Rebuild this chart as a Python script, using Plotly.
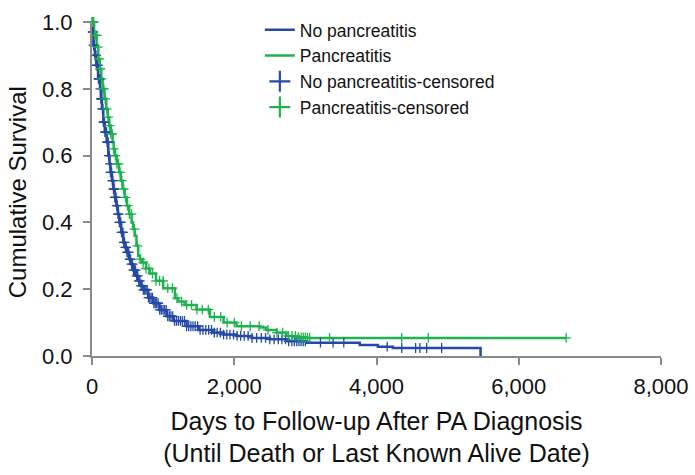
import numpy as np
import plotly.graph_objects as go

# Kaplan-Meier step curves (days, cumulative survival)
blue_days = [0, 8, 20, 40, 60, 85, 112, 125, 140, 159, 180, 206, 229, 245, 260, 280, 300, 320, 340, 362, 384,
             410, 440, 463, 490, 520, 550, 580, 615, 650, 685, 720, 790, 861, 950, 1049, 1150, 1330, 1500, 1704,
             1850, 2032, 2250, 2500, 2750, 3015, 3764, 4020, 4230, 5463, 5463]
blue_surv = [1.0, 0.97, 0.93, 0.90, 0.87, 0.83, 0.80, 0.77, 0.74, 0.70, 0.67, 0.64, 0.60, 0.575, 0.55, 0.525,
             0.50, 0.475, 0.45, 0.425, 0.40, 0.37, 0.34, 0.325, 0.31, 0.29, 0.275, 0.257, 0.24, 0.225, 0.21,
             0.198, 0.175, 0.158, 0.138, 0.119, 0.105, 0.089, 0.078, 0.07, 0.064, 0.06, 0.054, 0.05, 0.044,
             0.04, 0.033, 0.028, 0.024, 0.024, 0.0]

green_days = [0, 30, 66, 88, 110, 130, 150, 175, 200, 222, 243, 265, 290, 305, 323, 350, 380, 405, 431, 460,
              490, 522, 557, 578, 600, 625, 650, 675, 700, 760, 815, 900, 1001, 1166, 1212, 1300, 1470, 1657,
              1850, 2032, 2360, 2450, 2594, 2734, 2900, 3015, 6667]
green_surv = [1.0, 0.96, 0.925, 0.89, 0.86, 0.83, 0.80, 0.77, 0.74, 0.715, 0.69, 0.665, 0.64, 0.62, 0.60,
              0.575, 0.55, 0.525, 0.50, 0.475, 0.45, 0.425, 0.40, 0.38, 0.36, 0.33, 0.30, 0.29, 0.28, 0.262,
              0.247, 0.225, 0.203, 0.173, 0.163, 0.153, 0.139, 0.117, 0.10, 0.089, 0.085, 0.078, 0.070, 0.06,
              0.056, 0.054, 0.054]

# Censoring times
blue_cens = [3, 10, 16, 22, 28, 35, 41, 48, 55, 62, 68, 75, 82, 90, 97, 104, 111, 118, 125, 132, 139, 146,
             153, 160, 167, 175, 182, 190, 197, 205, 212, 220, 228, 236, 244, 252, 260, 268, 276, 285, 293,
             302, 311, 320, 329, 338, 347, 356, 365, 375, 385, 395, 405, 415, 425, 436, 447, 458, 469, 480,
             492, 505, 517, 530, 543, 556, 570, 583, 597, 612, 627, 642, 657, 672, 688, 705, 722, 740, 758,
             776, 794, 812, 831, 850, 870, 890, 910, 930, 952, 975, 998, 1020, 1043, 1065, 1088, 1110, 1135,
             1160, 1188, 1215, 1243, 1270, 1300, 1330, 1360, 1390, 1420, 1450, 1485, 1520, 1560, 1600, 1640,
             1680, 1720, 1760, 1805, 1850, 1895, 1940, 1990, 2040, 2090, 2140, 2195, 2250, 2315, 2380, 2440,
             2500, 2560, 2620, 2670, 2720, 2765, 2810, 2845, 2880, 2910, 2940, 2970, 3000, 3212, 3390, 3540,
             4150, 4355, 4550, 4610, 4705, 4916]
green_cens = [2, 12, 25, 37, 50, 65, 80, 97, 115, 132, 150, 167, 185, 205, 225, 245, 265, 285, 305, 328, 350,
              372, 395, 420, 445, 472, 500, 527, 555, 597, 640, 680, 720, 760, 800, 850, 900, 950, 1000, 1065,
              1130, 1195, 1260, 1330, 1400, 1475, 1550, 1635, 1720, 1810, 1900, 2000, 2100, 2225, 2350, 2475,
              2600, 2680, 2760, 2810, 2860, 2900, 2940, 2970, 3000, 3030, 3060, 3340, 4355, 4728, 6667]

x_ticks = [0, 2000, 4000, 6000, 8000]
x_ticklabels = ["0", "2,000", "4,000", "6,000", "8,000"]
y_ticks = [0.0, 0.2, 0.4, 0.6, 0.8, 1.0]
y_ticklabels = ["0.0", "0.2", "0.4", "0.6", "0.8", "1.0"]

BLUE = "#2449a6"
GREEN = "#1fb24f"
AXIS = "#8a8a8a"
FONT = "Liberation Sans, Arial, sans-serif"


def step_lookup(days, surv, t):
    d = np.asarray(days[:-1] if days[-1] == days[-2] else days)
    s = np.asarray(surv[:len(d)])
    idx = np.searchsorted(d, t, side="right") - 1
    return s[np.clip(idx, 0, len(s) - 1)]


fig = go.Figure()
fig.add_trace(go.Scatter(x=blue_days, y=blue_surv, mode="lines", line=dict(color=BLUE, width=2.5, shape="hv"),
                         name="No pancreatitis", showlegend=False, cliponaxis=False))
fig.add_trace(go.Scatter(x=green_days, y=green_surv, mode="lines", line=dict(color=GREEN, width=2.5, shape="hv"),
                         name="Pancreatitis", showlegend=False, cliponaxis=False))
fig.add_trace(go.Scatter(x=blue_cens, y=step_lookup(blue_days, blue_surv, blue_cens), mode="markers",
                         marker=dict(symbol="cross-thin", size=7, line=dict(color=BLUE, width=1.3)),
                         name="No pancreatitis-censored", showlegend=False, cliponaxis=False))
fig.add_trace(go.Scatter(x=green_cens, y=step_lookup(green_days, green_surv, green_cens), mode="markers",
                         marker=dict(symbol="cross-thin", size=7, line=dict(color=GREEN, width=1.3)),
                         name="Pancreatitis-censored", showlegend=False, cliponaxis=False))

# legend proxies
fig.add_trace(go.Scatter(x=[None], y=[None], mode="lines", line=dict(color=BLUE, width=2.5), name="No pancreatitis"))
fig.add_trace(go.Scatter(x=[None], y=[None], mode="lines", line=dict(color=GREEN, width=2.5), name="Pancreatitis"))
fig.add_trace(go.Scatter(x=[None], y=[None], mode="markers",
                         marker=dict(symbol="cross-thin", size=15, line=dict(color=BLUE, width=2.2)),
                         name="No pancreatitis-censored"))
fig.add_trace(go.Scatter(x=[None], y=[None], mode="markers",
                         marker=dict(symbol="cross-thin", size=15, line=dict(color=GREEN, width=2.2)),
                         name="Pancreatitis-censored"))

fig.update_layout(
    width=695, height=475,
    margin=dict(l=92, r=34, t=18, b=119),
    paper_bgcolor="white", plot_bgcolor="white",
    font=dict(family=FONT, color="#111111"),
    legend=dict(x=0.295, y=1.03, xanchor="left", yanchor="top", font=dict(size=17.5, family=FONT),
                bgcolor="rgba(0,0,0,0)", tracegroupgap=0, itemwidth=30),
    xaxis=dict(range=[0, 8000], tickvals=x_ticks, ticktext=x_ticklabels, showgrid=False, zeroline=False,
               showline=True, linecolor=AXIS, linewidth=2, ticks="outside", ticklen=7, tickwidth=2,
               tickcolor=AXIS, tickfont=dict(size=22), automargin=False, ticklabelstandoff=3,
               title=dict(text="Days to Follow-up After PA Diagnosis<br>(Until Death or Last Known Alive Date)",
                          font=dict(size=25), standoff=14)),
    yaxis=dict(range=[0, 1.0], tickvals=y_ticks, ticktext=y_ticklabels, showgrid=False, zeroline=False,
               showline=True, linecolor=AXIS, linewidth=2, ticks="outside", ticklen=7, tickwidth=2,
               tickcolor=AXIS, tickfont=dict(size=22), automargin=False, ticklabelstandoff=6),
    annotations=[dict(text="Cumulative Survival", textangle=-90, xref="paper", yref="paper",
                      x=-0.132, y=0.49, xanchor="center", yanchor="middle", showarrow=False,
                      font=dict(size=24, family=FONT, color="#111111"))],
)

fig.write_html("out.html", config={"displayModeBar": False},
               post_script="document.body.style.margin='0';")
